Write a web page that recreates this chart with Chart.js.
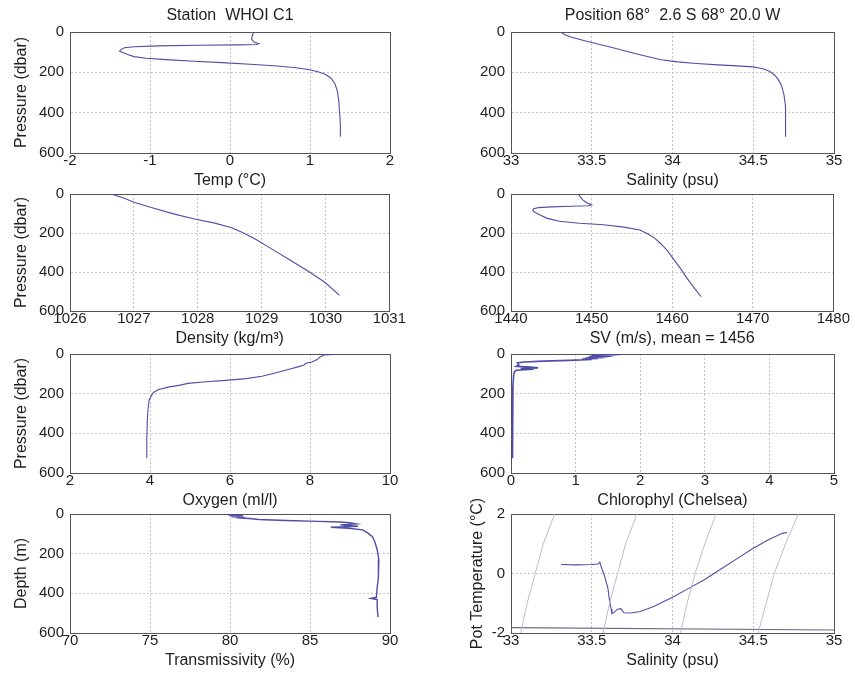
<!DOCTYPE html>
<html>
<head>
<meta charset="utf-8">
<title>Station WHOI C1 profiles</title>
<script src="https://cdn.jsdelivr.net/npm/chart.js@4/dist/chart.umd.min.js"></script>
<style>
  html, body { margin: 0; padding: 0; background: #fff; }
  #fig { position: relative; width: 855px; height: 677px; overflow: hidden; background: #fff; }
  #fig canvas { position: absolute; }
</style>
</head>
<body>
<div id="fig"></div>
<script>
// ---- CTD profile data (pressure in dbar) ----
const tempC = [0.30, 0.28, 0.27, 0.30, 0.36, 0.33, 0.10, -0.40, -0.90, -1.20, -1.32, -1.36, -1.38, -1.33, -1.28, -1.20, -1.05, -0.80, -0.45, -0.10, 0.25, 0.55, 0.80, 0.98, 1.10, 1.19, 1.26, 1.31, 1.34, 1.36, 1.37, 1.38, 1.38];
const tempP = [2, 15, 35, 50, 58, 62, 64, 66, 69, 73, 78, 86, 95, 103, 112, 122, 130, 137, 145, 152, 160, 167, 176, 186, 197, 210, 228, 255, 290, 340, 400, 460, 520];

const salS = [33.31, 33.33, 33.37, 33.45, 33.55, 33.65, 33.75, 33.85, 33.93, 34.03, 34.15, 34.28, 34.40, 34.50, 34.56, 34.60, 34.63, 34.655, 34.675, 34.69, 34.70, 34.70, 34.70];
const salP = [2, 12, 25, 42, 62, 82, 103, 123, 138, 148, 156, 163, 168, 173, 182, 195, 212, 235, 265, 310, 370, 440, 520];

const densD = [1026.67, 1026.85, 1027.00, 1027.30, 1027.62, 1027.95, 1028.25, 1028.52, 1028.72, 1028.92, 1029.15, 1029.45, 1029.75, 1030.00, 1030.22];
const densP = [2, 22, 42, 72, 102, 128, 148, 172, 200, 235, 280, 340, 400, 455, 520];

const svV = [1448.4, 1448.6, 1448.9, 1449.4, 1450.0, 1449.6, 1447.5, 1445.0, 1443.4, 1442.8, 1442.7, 1443.0, 1443.6, 1444.5, 1446.0, 1448.5, 1451.5, 1454.0, 1456.0, 1457.0, 1457.8, 1458.6, 1459.4, 1460.2, 1461.0, 1461.9, 1462.8, 1463.6];
const svP = [2, 15, 30, 45, 56, 60, 63, 66, 70, 76, 85, 95, 108, 125, 140, 150, 158, 170, 185, 205, 225, 255, 290, 335, 380, 435, 485, 527];

const oxyV = [8.62, 8.35, 8.25, 8.18, 8.05, 7.90, 7.85, 7.70, 7.45, 7.15, 6.80, 6.40, 5.90, 5.40, 4.95, 4.75, 4.45, 4.20, 4.08, 3.98, 3.95, 3.93, 3.92, 3.92];
const oxyP = [2, 5, 15, 28, 40, 47, 55, 65, 78, 95, 112, 124, 133, 140, 148, 157, 167, 180, 195, 230, 280, 350, 430, 525];

const chlV = [1.70, 1.35, 1.62, 1.30, 1.58, 1.25, 1.55, 1.22, 1.50, 1.20, 1.45, 1.15, 1.35, 1.10, 1.25, 0.90, 0.50, 0.20, 0.10, 0.12, 0.08, 0.30, 0.42, 0.15, 0.35, 0.08, 0.05, 0.04, 0.03, 0.03, 0.02, 0.02];
const chlP = [2, 3, 5, 6, 8, 9, 11, 12, 14, 16, 18, 20, 22, 25, 28, 32, 36, 40, 45, 55, 62, 66, 70, 73, 77, 82, 90, 110, 160, 260, 400, 525];

const trV = [79.8, 80.6, 79.9, 80.8, 80.0, 80.7, 80.1, 80.9, 80.4, 81.2, 81.8, 83.5, 85.5, 86.9, 87.5, 87.9, 86.9, 87.2, 88.0, 86.3, 87.4, 88.3, 88.6, 88.9, 89.05, 89.2, 89.3, 89.3, 89.25, 89.2, 89.15, 88.8, 89.2, 89.2, 89.25];
const trD = [2, 4, 6, 8, 10, 12, 14, 16, 19, 23, 28, 33, 37, 40, 44, 50, 55, 58, 62, 67, 72, 80, 95, 115, 140, 180, 230, 280, 320, 370, 420, 426, 432, 470, 520];

// ---- theta-S diagram ----
const tsS = [33.31, 33.40, 33.50, 33.54, 33.55, 33.56, 33.58, 33.60, 33.61, 33.62, 33.625, 33.64, 33.66, 33.68, 33.70, 33.74, 33.80, 33.88, 34.00, 34.10, 34.20, 34.30, 34.40, 34.50, 34.60, 34.68, 34.71];
const tsT = [0.30, 0.29, 0.30, 0.32, 0.38, 0.20, -0.10, -0.50, -0.90, -1.20, -1.35, -1.30, -1.20, -1.18, -1.32, -1.33, -1.28, -1.12, -0.80, -0.50, -0.20, 0.15, 0.50, 0.85, 1.15, 1.35, 1.38];
// isopycnals (salinity at each theta level)
const isoT = [-2, -1, 0, 1, 2];
const iso1S = [33.06, 33.10, 33.15, 33.20, 33.27];
const iso2S = [33.57, 33.61, 33.66, 33.71, 33.78];
const iso3S = [34.05, 34.09, 34.14, 34.20, 34.27];
const iso4S = [34.53, 34.58, 34.63, 34.70, 34.78];
// surface freezing point line
const frzS = [33, 35];
const frzT = [-1.82, -1.90];

// ---- axis tick definitions ----
const pressTicks = [0, 600, 200];
const tempTicks = [-2, 2, 1];
const salTicks = [33, 35, 0.5];
const densTicks = [1026, 1031, 1];
const svTicks = [1440, 1480, 10];
const oxyTicks = [2, 10, 2];
const chlTicks = [0, 5, 1];
const trTicks = [70, 90, 5];
const thetaTicks = [-2, 2, 2];

// ---- styling ----
const FONT = "'Liberation Sans', Arial, Helvetica, sans-serif";
const TXT = '#1e1e1e';
const BOX = '#555555';
const GRID = '#c4c4c4';
const LINE = '#4e4ea6';
const ISO = '#bcbccc';

// margins of each canvas around its plot box
const ML = 70, MR = 16, MT = 32, MB = 44;

const fig = document.getElementById('fig');

function pts(xs, ys) {
  return xs.map((v, i) => ({ x: v, y: ys[i] }));
}
function line(xs, ys, color, width) {
  return {
    data: pts(xs, ys), showLine: true, pointRadius: 0, borderColor: color,
    borderWidth: width, tension: 0, fill: false
  };
}
const fmt = v => String(Math.round(v * 1000) / 1000);

function panel(o) {
  const W = o.w + ML + MR, H = o.h + MT + MB;
  const c = document.createElement('canvas');
  c.width = W; c.height = H;
  c.style.left = (o.left - ML) + 'px';
  c.style.top = (o.top - MT) + 'px';
  c.style.width = W + 'px';
  c.style.height = H + 'px';
  fig.appendChild(c);

  const tickFont = { family: FONT, size: 15, lineHeight: 1 };
  const labFont = { family: FONT, size: 16, lineHeight: 1.2 };
  const yt = o.yTicks || pressTicks;

  new Chart(c, {
    type: 'scatter',
    data: { datasets: o.datasets },
    options: {
      responsive: false, animation: false, devicePixelRatio: 1, events: [],
      layout: { padding: 0, autoPadding: false },
      plugins: { legend: { display: false }, tooltip: { enabled: false }, title: { display: false } },
      scales: {
        x: {
          type: 'linear', position: 'bottom', min: o.xTicks[0], max: o.xTicks[1],
          afterFit: s => { s.height = MB; },
          ticks: { stepSize: o.xTicks[2], autoSkip: false, maxRotation: 0, padding: 0, color: TXT, font: tickFont, callback: fmt },
          grid: { color: GRID, lineWidth: 1, drawTicks: false },
          border: { display: true, color: BOX, width: 1, dash: [2, 2] },
          title: { display: !!o.xTitle, text: o.xTitle || '', color: TXT, font: labFont, padding: { top: 0, bottom: 7 } }
        },
        y: {
          type: 'linear', position: 'left', min: yt[0], max: yt[1], reverse: !o.yTicks,
          afterFit: s => { s.width = ML; },
          ticks: { stepSize: yt[2], autoSkip: false, padding: 6, color: TXT, font: tickFont, callback: fmt },
          grid: { color: GRID, lineWidth: 1, drawTicks: false },
          border: { display: true, color: BOX, width: 1, dash: [2, 2] },
          title: { display: !!o.yTitle, text: o.yTitle || '', color: TXT, font: labFont, padding: { top: o.yTitlePad || 12, bottom: 0 } }
        },
        xt: {
          type: 'linear', position: 'top', min: o.xTicks[0], max: o.xTicks[1],
          afterFit: s => { s.height = MT; },
          ticks: { display: false },
          grid: { drawOnChartArea: false, drawTicks: false },
          border: { display: true, color: BOX, width: 1 },
          title: { display: !!o.title, text: o.title || '', color: TXT, font: labFont, padding: { top: 6, bottom: 0 } }
        },
        yr: {
          type: 'linear', position: 'right', min: yt[0], max: yt[1],
          afterFit: s => { s.width = MR; },
          ticks: { display: false },
          grid: { drawOnChartArea: false, drawTicks: false },
          border: { display: true, color: BOX, width: 1 }
        }
      }
    }
  });
}

const COL = [{ left: 70, w: 320 }, { left: 511, w: 323 }];
const ROW = [{ top: 32, h: 121 }, { top: 194, h: 117 }, { top: 354, h: 119 }, { top: 514, h: 119 }];
const at = (r, c) => ({ left: COL[c].left, w: COL[c].w, top: ROW[r].top, h: ROW[r].h });

panel(Object.assign(at(0, 0), {
  title: 'Station  WHOI C1', xTitle: 'Temp (\u00B0C)', yTitle: 'Pressure (dbar)',
  xTicks: tempTicks, datasets: [line(tempC, tempP, LINE, 1.1)]
}));
panel(Object.assign(at(0, 1), {
  title: 'Position 68\u00B0  2.6 S 68\u00B0 20.0 W', xTitle: 'Salinity (psu)',
  xTicks: salTicks, datasets: [line(salS, salP, LINE, 1.1)]
}));
panel(Object.assign(at(1, 0), {
  xTitle: 'Density (kg/m\u00B3)', yTitle: 'Pressure (dbar)',
  xTicks: densTicks, datasets: [line(densD, densP, LINE, 1.1)]
}));
panel(Object.assign(at(1, 1), {
  xTitle: 'SV (m/s), mean = 1456',
  xTicks: svTicks, datasets: [line(svV, svP, LINE, 1.1)]
}));
panel(Object.assign(at(2, 0), {
  xTitle: 'Oxygen (ml/l)', yTitle: 'Pressure (dbar)',
  xTicks: oxyTicks, datasets: [line(oxyV, oxyP, LINE, 1.1)]
}));
panel(Object.assign(at(2, 1), {
  xTitle: 'Chlorophyl (Chelsea)',
  xTicks: chlTicks, datasets: [line(chlV, chlP, LINE, 1.6)]
}));
panel(Object.assign(at(3, 0), {
  xTitle: 'Transmissivity (%)', yTitle: 'Depth (m)',
  xTicks: trTicks, datasets: [line(trV, trD, LINE, 1.4)]
}));
panel(Object.assign(at(3, 1), {
  xTitle: 'Salinity (psu)', yTitle: 'Pot Temperature (\u00B0C)', yTitlePad: 27,
  xTicks: salTicks, yTicks: thetaTicks,
  datasets: [
    line(iso1S, isoT, ISO, 1), line(iso2S, isoT, ISO, 1),
    line(iso3S, isoT, ISO, 1), line(iso4S, isoT, ISO, 1),
    line(frzS, frzT, '#6a6a8a', 1.1),
    line(tsS, tsT, LINE, 1.1)
  ]
}));
</script>
</body>
</html>
